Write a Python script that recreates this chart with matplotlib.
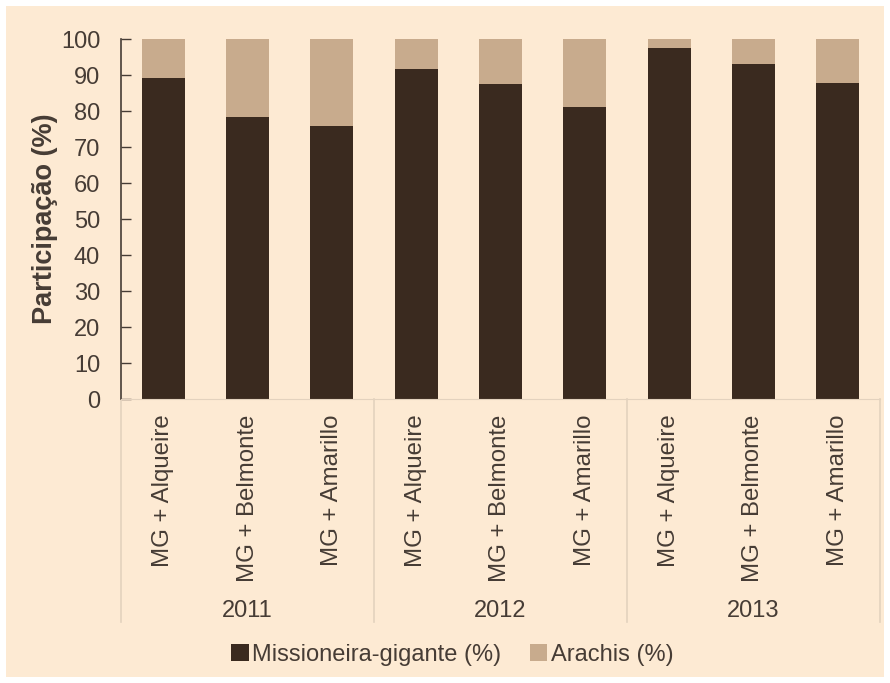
"""Participação de missioneira-gigante e Arachis em consórcio, 2011-2013."""

import matplotlib.pyplot as plt
from matplotlib.patches import Rectangle
from matplotlib.transforms import blended_transform_factory

plt.rcParams["font.family"] = ["Liberation Sans", "DejaVu Sans"]

YEARS = ["2011", "2012", "2013"]
TREATMENTS = ["MG + Alqueire", "MG + Belmonte", "MG + Amarillo"]
MISSIONEIRA = [89.2, 78.4, 75.8, 91.6, 87.5, 81.0, 97.6, 93.1, 87.7]
ARACHIS = [100 - v for v in MISSIONEIRA]

BG = "#FDEAD3"
DARK = "#3A2A1F"
LIGHT = "#C8AB8D"
TEXT = "#463C35"
SEP = "#E3D2BE"

labels = TREATMENTS * len(YEARS)
x = list(range(len(labels)))

fig = plt.figure(figsize=(8.9, 6.83), dpi=100, facecolor="white")
fig.patches.append(Rectangle((6 / 890, 6 / 683), 878 / 890, 671 / 683,
                             transform=fig.transFigure, facecolor=BG,
                             edgecolor="none", zorder=-10))
ax = fig.add_axes([121 / 890, 1 - 399 / 683, 759 / 890, 360 / 683])
ax.set_facecolor(BG)

ax.bar(x, MISSIONEIRA, width=0.51, color=DARK, label="Missioneira-gigante (%)")
ax.bar(x, ARACHIS, width=0.51, bottom=MISSIONEIRA, color=LIGHT, label="Arachis (%)")

ax.set_xlim(-0.5, len(labels) - 0.5)
ax.set_ylim(0, 100)
ax.set_yticks(range(0, 101, 10))
ax.tick_params(axis="y", direction="in", length=7, width=1, color=TEXT,
               labelsize=17, labelcolor=TEXT, pad=15)
ax.set_xticks(x)
ax.set_xticklabels(labels, rotation=90, va="top", ha="center")
ax.tick_params(axis="x", length=0, labelsize=17.3, labelcolor=TEXT, pad=11)

for side in ["top", "right"]:
    ax.spines[side].set_visible(False)
ax.spines["left"].set_color(TEXT)
ax.spines["left"].set_linewidth(1.2)
ax.spines["bottom"].set_color(SEP)

ax.set_ylabel("Participação (%)", fontsize=19.5, fontweight="bold", color=TEXT,
              labelpad=2)

# group separators and year labels under the axis
trans = blended_transform_factory(ax.transData, ax.transAxes)
for xs in [-0.5, 2.5, 5.5, 8.5]:
    ax.plot([xs, xs], [0, -0.62], transform=trans, color=SEP, lw=1.2,
            clip_on=False)
for i, year in enumerate(YEARS):
    ax.text(i * 3 + 1, -0.589, year, transform=trans, ha="center", va="center",
            fontsize=17, color=TEXT)

fig.legend(loc="center", bbox_to_anchor=(0.508, 1 - 655 / 683), ncol=2,
           frameon=False, fontsize=17, handlelength=0.76, handleheight=0.76,
           handletextpad=0.13, columnspacing=1.2, labelcolor=TEXT)

fig.savefig("out.png", dpi=100, facecolor="white")
